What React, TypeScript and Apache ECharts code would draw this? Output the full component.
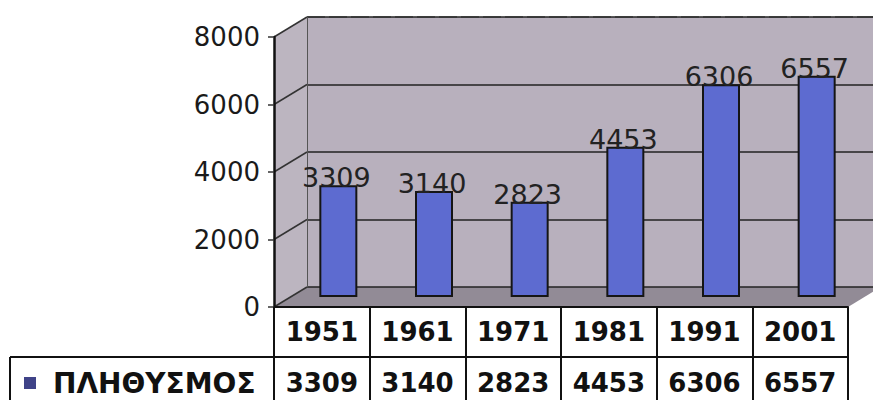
import React, { useEffect, useRef } from "react";
import * as echarts from "echarts";

const years = ["1951", "1961", "1971", "1981", "1991", "2001"];
const population = [3309, 3140, 2823, 4453, 6306, 6557];
const seriesName = "ΠΛΗΘΥΣΜΟΣ";
const yTicks = [0, 2000, 4000, 6000, 8000];
const yMin = 0;
const yMax = 8000;
const yStep = 2000;

export default function App() {
  const ref = useRef<HTMLDivElement>(null);
  useEffect(() => {
    const chart = echarts.init(ref.current!, null, { renderer: "svg" });
    const L = 274, T = 37, W = 574, H = 270, DX = 33, DY = 20;
    const B = T + H;
    const R = L + W;
    const yOf = (v: number) => B - ((v - yMin) / (yMax - yMin)) * H;
    const font = "DejaVu Sans";
    const wallColor = "#b8b0bd";
    const graphics: any[] = [
      {
        type: "polygon", z: -10, silent: true,
        shape: { points: [[L + DX, T - DY], [873, T - DY], [873, B - DY], [L + DX, B - DY]] },
        style: { fill: wallColor },
      },
      {
        type: "polygon", z: -10, silent: true,
        shape: { points: [[L, T], [L + DX, T - DY], [L + DX, B - DY], [L, B]] },
        style: { fill: "#bcb5c0" },
      },
      {
        type: "polygon", z: -10, silent: true,
        shape: { points: [[L, B], [L + DX, B - DY], [R + DX, B - DY], [R, B]] },
        style: { fill: "#928b96" },
      },
      {
        type: "line", z: -5, silent: true,
        shape: { x1: L + DX, y1: T - DY, x2: 873, y2: T - DY },
        style: { stroke: "#666", lineWidth: 1.5, lineDash: [18, 4] },
      },
      {
        type: "line", silent: true,
        shape: { x1: 10, y1: B + 50, x2: L, y2: B + 50 },
        style: { stroke: "#111", lineWidth: 2 },
      },
      {
        type: "line", silent: true,
        shape: { x1: 10, y1: B + 50, x2: 10, y2: 400 },
        style: { stroke: "#111", lineWidth: 2 },
      },
    ];
    yTicks.forEach((v) => {
      const y = yOf(v);
      graphics.push({
        type: "line", z: -5, silent: true,
        shape: { x1: L, y1: y, x2: L + DX, y2: y - DY },
        style: { stroke: "#333", lineWidth: 1.5 },
      });
    });

    chart.setOption({
      animation: false,
      textStyle: { fontFamily: font },
      grid: [
        { left: L, top: T, width: W, height: H },
        { left: L + DX, top: T - DY, width: W, height: H },
        { left: L + DX / 2, top: T - DY / 2, width: W, height: H },
      ],
      legend: {
        data: [{ name: seriesName, itemStyle: { color: "#3f4388", borderWidth: 0 } }],
        left: 19,
        top: 364,
        icon: "rect",
        itemWidth: 12,
        itemHeight: 12,
        textStyle: {
          fontSize: 28, fontWeight: "bold", color: "#111", fontFamily: font,
          lineHeight: 28, padding: [0, 0, 0, 12],
        },
        selectedMode: false,
      },
      xAxis: [
        {
          type: "category", gridIndex: 0, data: years,
          axisLine: { show: true, lineStyle: { color: "#111", width: 2 } },
          axisTick: { show: true, length: 50, interval: 0, lineStyle: { color: "#111", width: 2 } },
          axisLabel: { fontSize: 26, fontWeight: "bold", color: "#111", margin: 25, verticalAlign: "middle", interval: 0 },
        },
        {
          type: "category", gridIndex: 0, data: years, position: "bottom", offset: 50,
          axisLine: { show: true, lineStyle: { color: "#111", width: 2 } },
          axisTick: { show: true, length: 50, interval: 0, lineStyle: { color: "#111", width: 2 } },
          axisLabel: {
            fontSize: 26, fontWeight: "bold", color: "#111", margin: 26, verticalAlign: "middle", interval: 0,
            formatter: (_v: string, i: number) => String(population[i]),
          },
        },
        { type: "category", gridIndex: 1, data: years, show: false },
        { type: "category", gridIndex: 2, data: years, show: false },
      ],
      yAxis: [
        {
          type: "value", gridIndex: 0, min: yMin, max: yMax, interval: yStep,
          axisLine: { show: true, lineStyle: { color: "#111", width: 2.5 } },
          axisTick: { show: true, length: 6, lineStyle: { color: "#333", width: 1.5 } },
          axisLabel: { fontSize: 26, color: "#1a1a1a", margin: 14, formatter: (v: number) => String(v) },
          splitLine: { show: false },
        },
        {
          type: "value", gridIndex: 1, min: yMin, max: yMax, interval: yStep,
          axisLine: { show: true, lineStyle: { color: "#555", width: 1 } },
          axisTick: { show: false },
          axisLabel: { show: false },
          splitLine: { show: true, lineStyle: { color: "#222", width: 1.5 } },
        },
        { type: "value", gridIndex: 2, min: yMin, max: yMax, show: false, splitLine: { show: false } },
      ],
      series: [
        {
          name: seriesName,
          type: "bar",
          xAxisIndex: 3,
          yAxisIndex: 2,
          data: population,
          barWidth: 38,
          itemStyle: { color: "#5d6bd0", borderColor: "#151515", borderWidth: 2 },
          label: {
            show: true, position: "top", distance: 0, offset: [-2, 6],
            fontSize: 27, color: "#222", fontFamily: font,
          },
        },
      ],
      graphic: graphics,
    });
    return () => chart.dispose();
  }, []);
  return <div ref={ref} style={{ position: "absolute", left: 0, top: 0, width: 873, height: 400 }} />;
}
